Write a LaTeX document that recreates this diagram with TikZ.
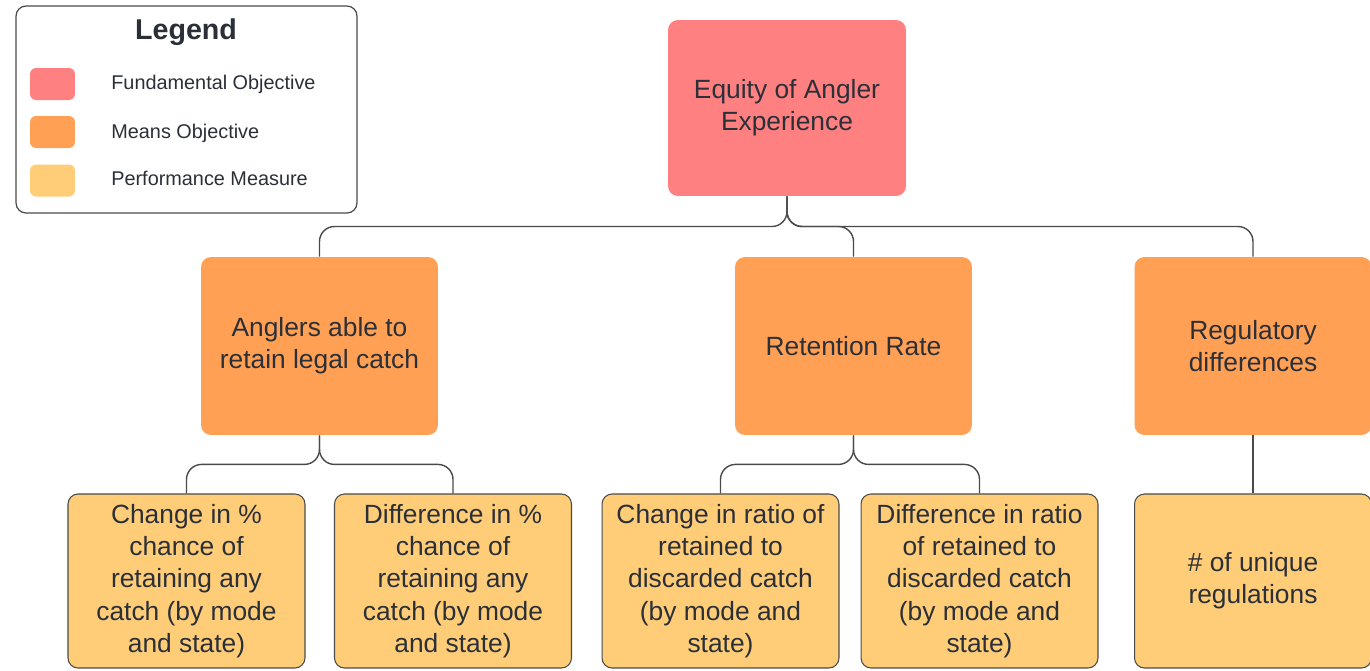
\documentclass[tikz,border=0pt]{standalone}
\usepackage{fontspec}
\setmainfont{Liberation Sans}
\usepackage{xcolor}
\usepackage{tikz}
\usetikzlibrary{positioning,calc}

\definecolor{fundred}{HTML}{FF8080}
\definecolor{meansorange}{HTML}{FFA054}
\definecolor{perfyellow}{HTML}{FFCC78}
\definecolor{linegray}{HTML}{4A4A4A}
\definecolor{textdark}{HTML}{2A2F38}

\begin{document}
\begin{tikzpicture}[x=0.02cm,y=-0.02cm,
    base node/.style={rectangle,rounded corners=0.2cm,align=center,inner sep=0pt,
    text=textdark,font=\fontsize{15}{18.4}\selectfont,minimum width=4.74cm},
    fund node/.style={base node,fill=fundred,minimum height=3.52cm},
    means node/.style={base node,fill=meansorange,minimum height=3.56cm},
    perf node/.style={base node,fill=perfyellow,draw=linegray,line width=0.6pt,minimum height=3.48cm},
    swatch/.style={rectangle,rounded corners=0.12cm,minimum width=0.9cm,minimum height=0.64cm,inner sep=0pt},
    legend item/.style={anchor=west,inner sep=0pt,text=textdark,font=\fontsize{11.3}{13}\selectfont},
    tree edge/.style={draw=linegray,line width=0.8pt,rounded corners=0.3cm}]

    \useasboundingbox (0,0) rectangle (1370,670);

    \node[draw=linegray,line width=0.7pt,rounded corners=0.2cm,minimum width=6.82cm,minimum height=4.14cm] (LegendBox) at (186.5,109.5) {};
    \node[font=\fontsize{16.3}{19}\selectfont\bfseries,text=textdark,inner sep=0pt] (LegendTitle) at (186,32) {Legend};

    \node[swatch,fill=fundred] (FundSwatch) at (52.5,84) {};
    \node[swatch,fill=meansorange] (MeansSwatch) at (52.5,132) {};
    \node[swatch,fill=perfyellow] (PerfSwatch) at (52.5,180.5) {};

    \node[legend item] (FundLabel) at (111,84) {Fundamental Objective};
    \node[legend item] (MeansLabel) at (111,133) {Means Objective};
    \node[legend item] (PerfLabel) at (111,178) {Performance Measure};

    \node[fund node,minimum width=4.76cm] (Equity) at (787,108) {Equity of Angler\\Experience};

    \node[means node] (RetainCatch) at (319.5,346) {Anglers able to\\retain legal catch};

    \node[means node] (RetentionRate) at (853.5,346) {Retention Rate};

    \node[means node] (RegDiff) at (1253,346) {Regulatory\\differences};

    \node[perf node] (ChangePct) at (186.5,581) {Change in \%\\chance of\\retaining any\\catch (by mode\\and state)};

    \node[perf node] (DiffPct) at (453,581) {Difference in \%\\chance of\\retaining any\\catch (by mode\\and state)};

    \node[perf node] (ChangeRatio) at (720.5,581) {Change in ratio of\\retained to\\discarded catch\\(by mode and\\state)};

    \node[perf node] (DiffRatio) at (979.5,581) {Difference in ratio\\of retained to\\discarded catch\\(by mode and\\state)};

    \node[perf node] (UniqueRegs) at (1253,581) {\# of unique\\regulations};

    \coordinate (TopBus) at ($(Equity.south)!0.5!(RetainCatch.north)$);
    \coordinate (LeftBus) at ($(RetainCatch.south)!0.5!(ChangePct.north)$);
    \coordinate (MidBus) at ($(RetentionRate.south)!0.5!(ChangeRatio.north)$);

    \draw[tree edge] (Equity.south) -- (Equity.south |- TopBus) -| (RetainCatch.north);
    \draw[tree edge] (Equity.south) -- (Equity.south |- TopBus) -| (RetentionRate.north);
    \draw[tree edge] (Equity.south) -- (Equity.south |- TopBus) -| (RegDiff.north);

    \draw[tree edge] (RetainCatch.south) -- (RetainCatch.south |- LeftBus) -| (ChangePct.north);
    \draw[tree edge] (RetainCatch.south) -- (RetainCatch.south |- LeftBus) -| (DiffPct.north);

    \draw[tree edge] (RetentionRate.south) -- (RetentionRate.south |- MidBus) -| (ChangeRatio.north);
    \draw[tree edge] (RetentionRate.south) -- (RetentionRate.south |- MidBus) -| (DiffRatio.north);

    \draw[tree edge] (RegDiff.south) -- (UniqueRegs.north);
  \end{tikzpicture}
\end{document}
